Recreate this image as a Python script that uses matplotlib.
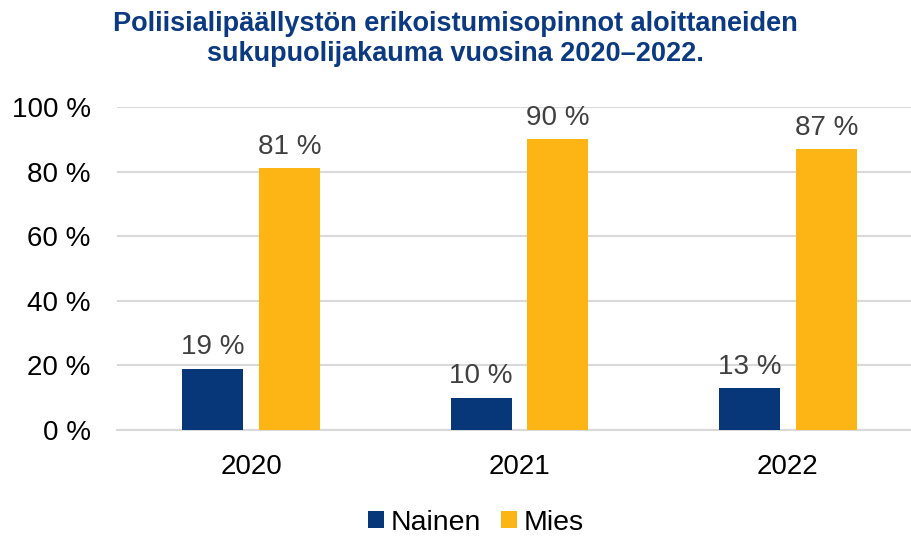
import numpy as np
import matplotlib.pyplot as plt

plt.rcParams['font.family'] = ['Liberation Sans', 'DejaVu Sans']

years = ['2020', '2021', '2022']
nainen = [19, 10, 13]
mies = [81, 90, 87]
series_names = ['Nainen', 'Mies']
yticks = [0, 20, 40, 60, 80, 100]

navy = '#073679'
yellow = '#FDB515'
fs = 20

fig = plt.figure(figsize=(9.11, 5.37), dpi=100)
# plot area runs a little past the right edge, as in the reference crop
ax = fig.add_axes([0.1284, 0.1993, 0.8837, 0.6014])

x = np.arange(len(years))
w = 0.227
off = 0.143
b1 = ax.bar(x - off, nainen, w, color=navy, label=series_names[0], zorder=3)
b2 = ax.bar(x + off, mies, w, color=yellow, label=series_names[1], zorder=3)

for bars, vals in [(b1, nainen), (b2, mies)]:
    for rect, v in zip(bars, vals):
        ax.annotate(f"{v} %", (rect.get_x() + rect.get_width() / 2, v),
                    xytext=(0, 6), textcoords='offset points',
                    ha='center', va='bottom', fontsize=fs, color='#404040')

ax.set_xlim(-0.5, len(years) - 0.5)
ax.set_ylim(0, 100)
ax.set_yticks(yticks)
ax.set_yticklabels([f"{t} %" for t in yticks], fontsize=fs)
ax.set_xticks(x)
ax.set_xticklabels(years, fontsize=fs)
ax.tick_params(axis='y', length=0, pad=19)
ax.tick_params(axis='x', length=0, pad=17)
ax.grid(axis='y', color='#D9D9D9', linewidth=1.5, zorder=0)
for s in ['top', 'right', 'left']:
    ax.spines[s].set_visible(False)
ax.spines['bottom'].set_color('#D9D9D9')
ax.spines['bottom'].set_linewidth(1.5)

fig.suptitle("Poliisialipäällystön erikoistumisopinnot aloittaneiden\nsukupuolijakauma vuosina 2020–2022.",
             x=0.5, y=0.98, fontsize=19.5, fontweight='bold', color='#0B3A82',
             linespacing=1.2)

fig.legend(loc='center', bbox_to_anchor=(0.5225, 0.027), ncol=2, frameon=False,
           fontsize=20.5, handlelength=0.55, handleheight=0.55, handletextpad=0.25,
           columnspacing=0.7, borderpad=0)

fig.savefig('out.png', dpi=100)
